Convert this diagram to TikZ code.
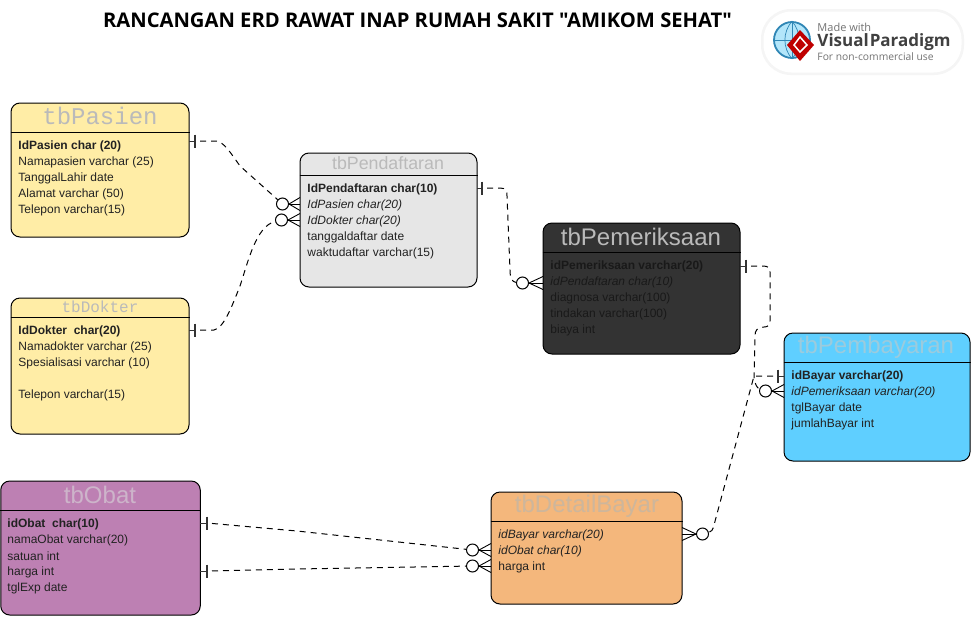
\documentclass[tikz,border=0pt]{standalone}
\usepackage{fontspec}
\setmainfont{Liberation Sans}
\setmonofont{Liberation Mono}
\newfontfamily\headfont{Open Sans}
\usetikzlibrary{arrows.meta}
\definecolor{cPasien}{HTML}{FFEDA6}
\definecolor{cDaftar}{HTML}{E6E6E6}
\definecolor{cPeriksa}{HTML}{333333}
\definecolor{cBayar}{HTML}{5FCFFF}
\definecolor{cObat}{HTML}{BD80B3}
\definecolor{cDetail}{HTML}{F4B77C}
\definecolor{cTxt}{HTML}{222222}
\definecolor{tBayar}{HTML}{9CCBDD}
\definecolor{tObat}{HTML}{CDB4CA}
\definecolor{tDetail}{HTML}{CDB69C}
\definecolor{cGlobe}{HTML}{2F86B5}
\newcommand{\pxfont}[1]{\fontsize{#1}{#1}\selectfont}
\begin{document}
\begin{tikzpicture}[x=1pt,y=-1pt,line width=.9pt,
 ent/.style={draw=black,rounded corners=9pt,inner sep=0pt,line width=1pt},
 ttl/.style={inner sep=0pt,text=black!27,font=\pxfont{24}},
 pk/.style={anchor=west,inner sep=0pt,text=cTxt,font=\pxfont{12}\bfseries},
 fk/.style={anchor=west,inner sep=0pt,text=cTxt,font=\pxfont{12}\itshape},
 col/.style={anchor=west,inner sep=0pt,text=cTxt,font=\pxfont{12}},
 zero/.style={circle,draw=black,fill=white,line width=1pt,minimum size=12pt,inner sep=0pt},
 rel/.style={dash pattern=on 6pt off 5pt,dash phase=6pt,line width=1pt}]
\newcommand{\ERline}[2]{\draw[line width=1pt] (#1.west |- 0,#2) -- (#1.east |- 0,#2);}
% crow's foot: circle name, box side x, y, apex x
\newcommand{\ERmany}[4]{\node[zero] (#1) at ({#4+6.5*sign(#4-#2)},#3) {};
 \draw (#2,#3-6.5) -- (#4,#3) -- (#2,#3+6.5); \draw (#2,#3) -- (#4,#3);}
% one side: coordinate name, box side x, bar x, y
\newcommand{\ERone}[4]{\coordinate (#1) at (#3,#4);
 \draw[black!80] (#2,#4) -- (#3,#4); \draw[black!80,line width=1.4pt] (#3,#4-6.5) -- (#3,#4+6.5);}
\useasboundingbox (0,0) rectangle (971,616);
\fill[white] (0,0) rectangle (971,616);
\node[inner sep=0pt,font=\headfont\pxfont{20.2}\bfseries] (judul) at (417.5,20) {RANCANGAN ERD RAWAT INAP RUMAH SAKIT "AMIKOM SEHAT"};
% badge
\fill[black!4,rounded corners=30pt] (761,9) rectangle (964,75);
\node[fill=white,rounded corners=28pt,minimum width=198pt,minimum height=61pt,inner sep=0pt] (vpbadge) at (862.5,42) {};
\node[circle,draw=cGlobe,fill=cyan!30,line width=1.8pt,minimum size=36pt,inner sep=0pt] (vpglobe) at (792,40) {};
\draw[cGlobe,line width=.7pt] (vpglobe.west) -- (vpglobe.east) (vpglobe.north) -- (vpglobe.south);
\draw[cGlobe,line width=.7pt] (vpglobe.north) to[bend left=40] (vpglobe.south) (vpglobe.north) to[bend right=40] (vpglobe.south);
\fill[red!75!black] (800,30) -- (814,45) -- (800,61) -- (787,45) -- cycle;
\draw[white,line width=1.5pt] (800,37) -- (807,45) -- (800,52) -- (794,45) -- cycle;
\node[anchor=west,inner sep=0pt,text=black!55,font=\headfont\pxfont{11}] (vpmade) at (817,27) {Made with};
\node[anchor=west,inner sep=0pt,text=black!75,font=\headfont\pxfont{17}\bfseries] (vpname) at (817,42) {Visual\kern1pt Paradigm};
\node[anchor=west,inner sep=0pt,text=black!55,font=\headfont\pxfont{10.3}] (vpuse) at (817,57) {For non-commercial use};
% tbPasien
\node[ent,fill=cPasien,minimum width=178pt,minimum height=134pt] (Pa) at (100,170) {};
\ERline{Pa}{132}
\node[ttl,font=\ttfamily\pxfont{24}] (Pa-t) at (100,116) {tbPasien};
\foreach \n/\sty/\txt in {0/pk/IdPasien char (20),1/col/Namapasien varchar (25),2/col/TanggalLahir date,3/col/Alamat varchar (50),4/col/Telepon varchar(15)}
 \node[\sty] (Pa-\n) at (18,{146+16*\n}) {\txt};
% tbDokter
\node[ent,fill=cPasien,minimum width=178pt,minimum height=136pt] (Do) at (100,366) {};
\ERline{Do}{317}
\node[ttl,font=\ttfamily\pxfont{16}] (Do-t) at (100,307) {tbDokter};
\foreach \n/\sty/\txt in {0/pk/IdDokter~~char(20),1/col/Namadokter varchar (25),2/col/Spesialisasi varchar (10),4/col/Telepon varchar(15)}
 \node[\sty] (Do-\n) at (18,{331.5+16*\n}) {\txt};
% tbPendaftaran
\node[ent,fill=cDaftar,minimum width=177pt,minimum height=134pt] (Da) at (388.5,220) {};
\ERline{Da}{175}
\node[ttl,font=\pxfont{17.8}] (Da-t) at (388,163) {tbPendaftaran};
\foreach \n/\sty/\txt in {0/pk/IdPendaftaran char(10),1/fk/IdPasien char(20),2/fk/IdDokter char(20),3/col/tanggaldaftar date,4/col/waktudaftar varchar(15)}
 \node[\sty] (Da-\n) at (307,{189.5+16*\n}) {\txt};
% tbPemeriksaan
\node[ent,fill=cPeriksa,minimum width=197pt,minimum height=131pt] (Pe) at (641.5,288.5) {};
\ERline{Pe}{252}
\node[ttl] (Pe-t) at (641,237) {tbPemeriksaan};
\foreach \n/\sty/\txt in {0/pk/idPemeriksaan varchar(20),1/fk/idPendaftaran char(10),2/col/diagnosa varchar(100),3/col/tindakan varchar(100),4/col/biaya int}
 \node[\sty,text=black!90] (Pe-\n) at (550,{266.5+16*\n}) {\txt};
% tbPembayaran
\node[ent,fill=cBayar,minimum width=186pt,minimum height=128pt] (By) at (877,397) {};
\ERline{By}{362}
\node[ttl,text=tBayar] (By-t) at (876,347) {tbPembayaran};
\foreach \n/\sty/\txt in {0/pk/idBayar varchar(20),1/fk/idPemeriksaan varchar(20),2/col/tglBayar date,3/col/jumlahBayar int}
 \node[\sty] (By-\n) at (791,{376.5+16*\n}) {\txt};
% tbObat
\node[ent,fill=cObat,minimum width=199.5pt,minimum height=134pt] (Ob) at (100.5,548) {};
\ERline{Ob}{510}
\node[ttl,text=tObat] (Ob-t) at (100,495) {tbObat};
\foreach \n/\sty/\txt in {0/pk/idObat~~char(10),1/col/namaObat varchar(20),2/col/satuan int,3/col/harga int,4/col/tglExp date}
 \node[\sty] (Ob-\n) at (7,{524.5+16*\n}) {\txt};
% tbDetailBayar
\node[ent,fill=cDetail,minimum width=191pt,minimum height=112pt] (De) at (586.5,548) {};
\ERline{De}{521}
\node[ttl,text=tDetail] (De-t) at (587,506) {tbDetailBayar};
\foreach \n/\sty/\txt in {0/fk/idBayar varchar(20),1/fk/idObat char(10),2/col/harga int}
 \node[\sty] (De-\n) at (498,{535.5+16*\n}) {\txt};
% ends
\ERone{oPa}{189}{195}{141}
\ERone{oDo}{189}{195}{330}
\ERone{oDa}{477}{482}{188}
\ERone{oPe}{740}{746}{266}
\ERone{oBy}{784}{778}{376}
\ERone{oOb1}{200}{207}{523}
\ERone{oOb2}{200}{207}{571}
\ERmany{mDaP}{300}{204}{289}
\ERmany{mDaD}{300}{220}{288}
\ERmany{mPe}{543}{283}{529}
\ERmany{mBy}{784}{391}{772}
\ERmany{mDe}{682}{534}{696}
\ERmany{mOb1}{491}{550}{479}
\ERmany{mOb2}{491}{566}{479}
% relations
\draw[rel] (oPa) -- (216,141) .. controls (224,142) and (230,152) .. (240,166) -- (mDaP);
\draw[rel] (oDo) -- (214,330) .. controls (224,328) and (232,306) .. (240,286) .. controls (248,262) and (256,226) .. (mDaD);
\draw[rel] (oDa) -- (500,188) .. controls (506,188) and (507,191) .. (507,196) -- (510,270) .. controls (510,278) and (512,282) .. (mPe);
\draw[rel] (oPe) -- (763,266) .. controls (768,266) and (770,268) .. (770,272) -- (770,321) .. controls (770,325) and (768,327) .. (764,327) .. controls (757,328) and (755,330) .. (755,336) -- (754,378) .. controls (755,384) and (757,388) .. (mBy);
\draw[rel] (oBy) -- (754,376) -- (714,525) .. controls (713,530) and (711,532) .. (mDe);
\draw[rel] (oOb1) -- (297,531) -- (mOb1);
\draw[rel] (oOb2) -- (297,569) -- (mOb2);
\end{tikzpicture}
\end{document}
